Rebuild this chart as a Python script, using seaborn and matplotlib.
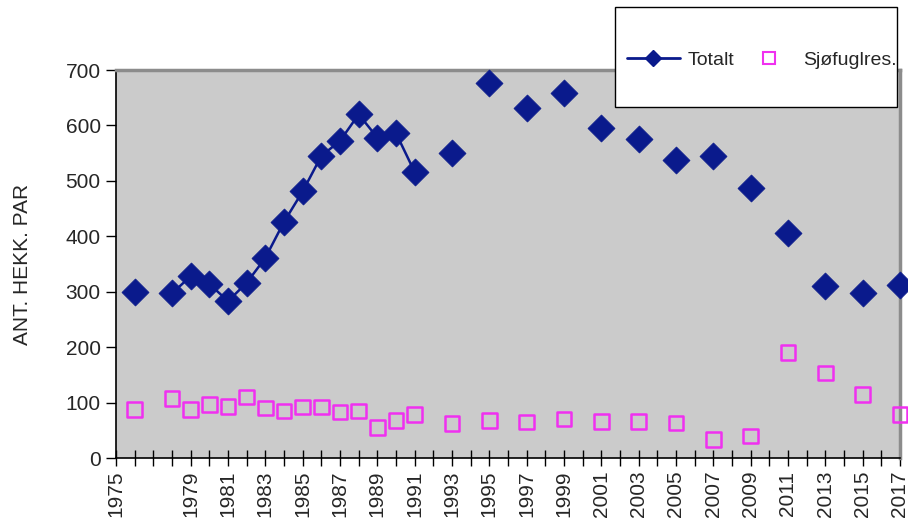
#!/usr/bin/env python3
# plot.py
# Hekkebestand: totalt antall hekkende par og andel i sjøfuglreservat

import numpy as np
import pandas as pd
import matplotlib
matplotlib.use("Agg")
import matplotlib.pyplot as plt
from matplotlib.lines import Line2D
from matplotlib.patches import Rectangle
import seaborn as sns

# Data lest av figuren
years = [1976, 1978, 1979, 1980, 1981, 1982, 1983, 1984, 1985, 1986, 1987,
         1988, 1989, 1990, 1991, 1993, 1995, 1997, 1999, 2001, 2003, 2005,
         2007, 2009, 2011, 2013, 2015, 2017]
totalt = [300, 297, 328, 314, 283, 316, 361, 426, 481, 545, 572,
          620, 578, 586, 516, 551, 676, 631, 658, 595, 575, 538,
          544, 488, 406, 311, 297, 312]
sjofuglres = [87, 107, 87, 97, 93, 110, 90, 85, 92, 92, 83,
              85, 55, 68, 78, 62, 68, 65, 70, 66, 66, 63,
              33, 40, 190, 153, 115, 78]

tick_years = list(range(1975, 2018))
label_years = [1975] + list(range(1979, 2018, 2))

ylabel = "ANT. HEKK. PAR"
series_names = ["Totalt", "Sjøfuglres."]

NAVY = "#0A1A8C"
MAGENTA = "#F030F0"

df = pd.DataFrame({"year": years, "totalt": totalt, "sjo": sjofuglres})
# linja brytes der et år mangler
df["seg"] = (df["year"].diff() != 1).cumsum()

sns.set_style("white")
plt.rcParams["font.family"] = ["Liberation Sans", "DejaVu Sans"]

fig = plt.figure(figsize=(9.08, 5.19), dpi=100)
ax = fig.add_axes([116 / 908, 1 - 458 / 519, 784 / 908, 388 / 519])
ax.set_facecolor("#CBCBCB")

sns.lineplot(data=df, x="year", y="totalt", units="seg", estimator=None,
             color=NAVY, lw=1.8, ax=ax, legend=False)
sns.scatterplot(data=df, x="year", y="totalt", marker="D", s=190,
                color=NAVY, edgecolor=NAVY, linewidth=0.5, ax=ax,
                legend=False, clip_on=False, zorder=3)
sns.scatterplot(data=df, x="year", y="sjo", marker="s", s=110,
                facecolor="none", edgecolor=MAGENTA, linewidth=1.8, ax=ax,
                legend=False, clip_on=False, zorder=3)

ax.set_xlim(1975, 2017)
ax.set_ylim(0, 700)
ax.set_yticks(np.arange(0, 701, 100))
ax.set_xticks(tick_years)
ax.set_xticklabels([str(y) if y in label_years else "" for y in tick_years],
                   rotation=90, fontsize=15)
ax.tick_params(axis="y", labelsize=15, direction="out", length=7,
               width=1, color="black", left=True, pad=4)
ax.tick_params(axis="x", direction="inout", length=12, width=1,
               color="black", bottom=True, pad=3)
ax.set_xlabel("")
ax.set_ylabel(ylabel, fontsize=15, labelpad=24)

for side in ["left", "bottom"]:
    ax.spines[side].set_color("black")
    ax.spines[side].set_linewidth(1.2)
for side in ["top", "right"]:
    ax.spines[side].set_color("#8C8C8C")
    ax.spines[side].set_linewidth(2.5)

# legendeboks
box = Rectangle((615 / 908, 1 - 107 / 519), 282 / 908, 100 / 519,
                transform=fig.transFigure, facecolor="white",
                edgecolor="black", linewidth=1, zorder=5)
fig.patches.append(box)

handles = [
    Line2D([], [], color=NAVY, lw=2, marker="D", markersize=8),
    Line2D([], [], color=MAGENTA, lw=0, marker="s", markersize=9,
           markerfacecolor="none", markeredgewidth=1.5),
]
leg = fig.legend(handles, series_names, loc="center",
                 bbox_to_anchor=(762 / 908, 1 - 60 / 519), ncol=2,
                 frameon=False, fontsize=14, handlelength=2.7,
                 handletextpad=0.4, columnspacing=0.45, borderpad=0)
leg.set_zorder(6)

fig.savefig("out.png", dpi=100)
